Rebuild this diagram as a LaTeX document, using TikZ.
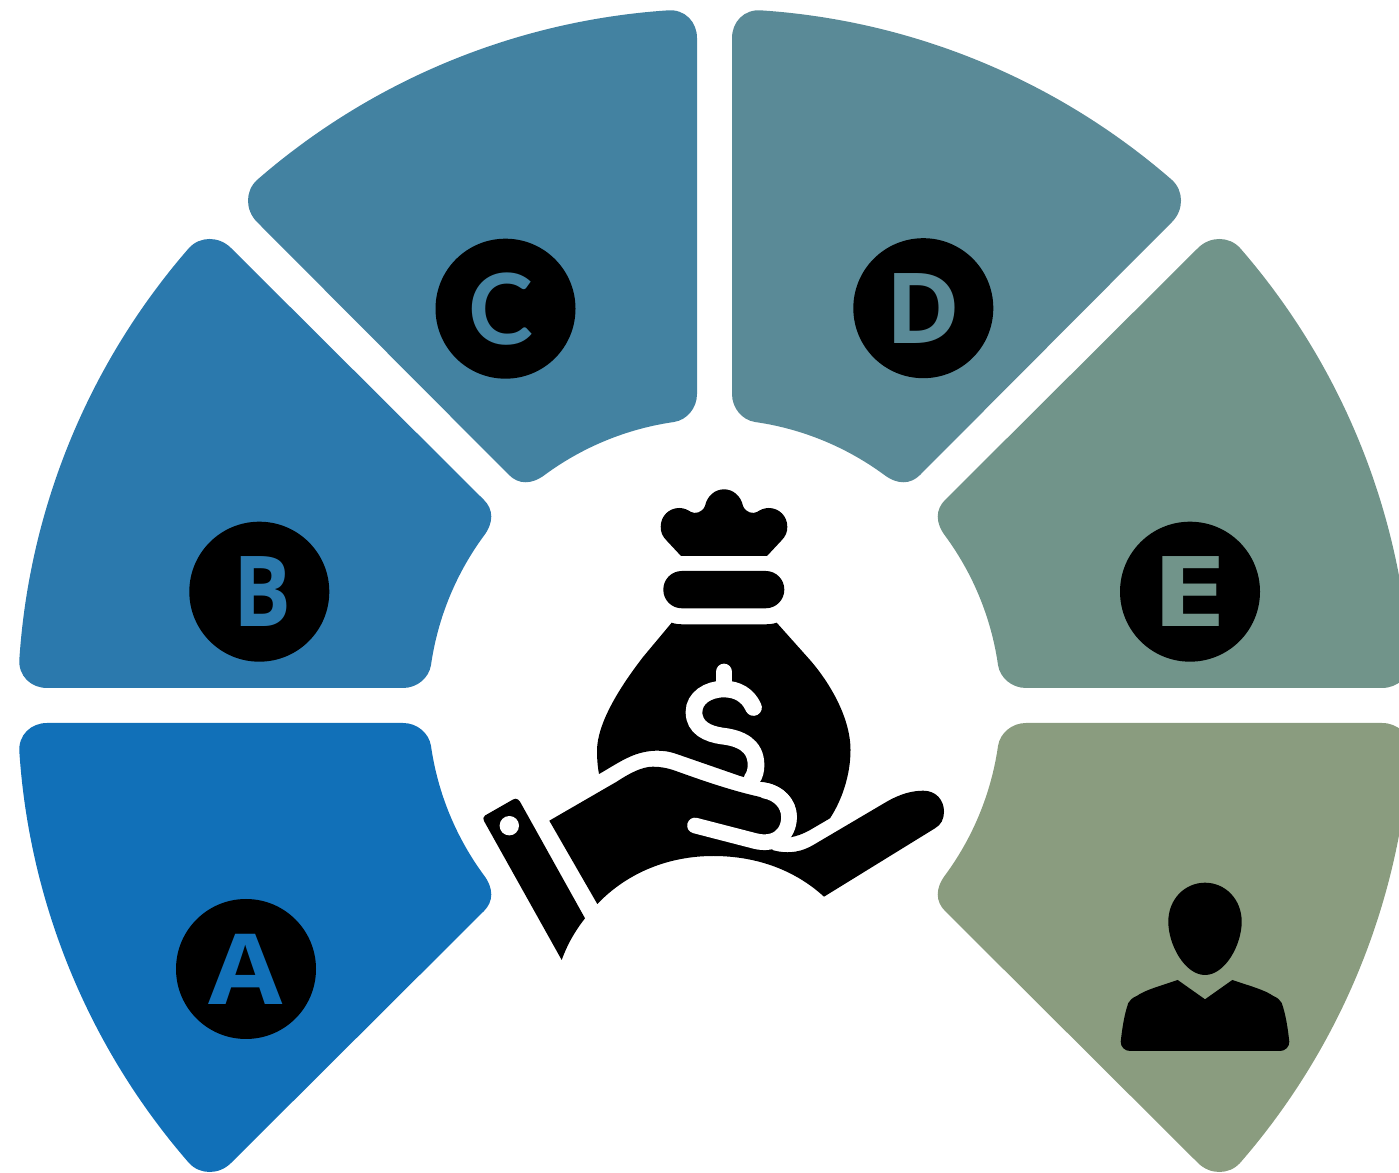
\documentclass[tikz,border=0pt]{standalone}
\usepackage{fontspec}
\usepackage{graphicx}
\setmainfont{Open Sans}
\newfontfamily\roundfont{Lato}
\definecolor{colA}{HTML}{1170B8}
\definecolor{colB}{HTML}{2B79AD}
\definecolor{colC}{HTML}{4382A1}
\definecolor{colD}{HTML}{5A8A97}
\definecolor{colE}{HTML}{71948A}
\definecolor{colF}{HTML}{8A9C7F}
\tikzset{
  lettercircle/.style={circle,fill=black,inner sep=0pt,minimum size=140pt,
    font=\bfseries\fontsize{98}{98}\selectfont},
  imgcoords/.style={shift={(0,1172)},yscale=-1}
}
\newcommand{\segmentpath}{
  (-667.5,-17.5) -- (-311.5,-17.5)
  .. controls (-297.5,-17.5) and (-285.5,-27.5) .. (-283.5,-40.5)
  arc[start angle=188.13,end angle=216.33,radius=286]
  .. controls (-220.5,-183) and (-221,-196) .. (-230.5,-205.5)
  -- (-483.5,-457.5)
  .. controls (-495.5,-469.5) and (-514.5,-469.5) .. (-525.5,-457.5)
  arc[start angle=221.04,end angle=183.83,radius=696.6]
  .. controls (-696.5,-29.5) and (-683.5,-17.5) .. (-667.5,-17.5) -- cycle
}
\begin{document}
\begin{tikzpicture}[x=1pt,y=1pt]
\useasboundingbox (0,0) rectangle (1399,1172);
\clip (0,0) rectangle (1399,1172);
% segments
\begin{scope}[shift={(714.5,466.5)}]
  \fill[colA] \segmentpath;
  \begin{scope}[yscale=-1] \fill[colB] \segmentpath; \end{scope}
  \begin{scope}[cm={0,-1,1,0,(0,0)}] \fill[colC] \segmentpath; \end{scope}
  \begin{scope}[cm={0,-1,-1,0,(0,0)}] \fill[colD] \segmentpath; \end{scope}
  \begin{scope}[xscale=-1,yscale=-1] \fill[colE] \segmentpath; \end{scope}
  \begin{scope}[xscale=-1] \fill[colF] \segmentpath; \end{scope}
\end{scope}
\begin{scope}[imgcoords]
  % letters
  \node[lettercircle,text=colA] (a) at (246,969) {\scalebox{1.1}[1]{A}};
  \node[lettercircle,text=colB] (b) at (259.3,591.7) {\hspace*{5.6pt}\scalebox{0.88}[1]{B}};
  \node[lettercircle,text=colC] (c) at (505.5,308.7) {\roundfont\bfseries C\hspace*{10pt}};
  \node[lettercircle,text=colD] (d) at (923.3,308.2) {\scalebox{1.04}[1]{D}};
  \node[lettercircle,text=colE] (e) at (1190,591.7) {\scalebox{1.4}[1]{E}\hspace*{2pt}};
  % person
  \fill[black] (1205,882.7) .. controls (1225,882.7) and (1241.7,899) .. (1241.7,921.7)
    .. controls (1241.7,945) and (1225,975) .. (1205,975)
    .. controls (1185,975) and (1168.3,945) .. (1168.3,921.7)
    .. controls (1168.3,899) and (1185,882.7) .. (1205,882.7) -- cycle;
  \fill[black] (1177.7,980) -- (1205,999.3) -- (1232.3,980)
    .. controls (1250,986) and (1265,990) .. (1273.3,996)
    .. controls (1278,998) and (1280,1000) .. (1281.7,1003)
    .. controls (1286,1015) and (1288,1030) .. (1289.3,1041.7)
    .. controls (1289.5,1047) and (1285,1051) .. (1280,1051)
    -- (1130,1051)
    .. controls (1125,1051) and (1120.5,1047) .. (1120.7,1041.7)
    .. controls (1122,1030) and (1124,1015) .. (1128.3,1003)
    .. controls (1130,1000) and (1132,998) .. (1136.7,996)
    .. controls (1145,990) and (1160,986) .. (1177.7,980) -- cycle;
  % bag knot
  \fill[black] (681,556) -- (667,541)
    .. controls (662,536) and (660.7,532) .. (660.7,526.7)
    .. controls (660.7,516) and (669,508) .. (679.3,508)
    .. controls (684,508) and (688,510) .. (691,512)
    .. controls (695,514) and (702,513) .. (705,506)
    .. controls (707,496) and (715,489.3) .. (724,489.3)
    .. controls (733,489.3) and (741,496) .. (743,506)
    .. controls (746,513) and (753,514) .. (757,512)
    .. controls (760,510) and (764,508) .. (768.7,508)
    .. controls (779,508) and (787.3,516) .. (787.3,526.7)
    .. controls (787.3,532) and (786,536) .. (781,541)
    -- (767,556) -- cycle;
  % bag band
  \fill[black,rounded corners=18.5] (663.3,571) rectangle (784.3,608.3);
  % bag body
  \fill[black] (671.7,622.7) .. controls (675,624) and (679,624.3) .. (683,624.3)
    -- (765,624.3) .. controls (769,624.3) and (773,624) .. (776.7,622.7)
    -- (810,660)
    .. controls (830,683) and (850.5,718) .. (850.5,750)
    .. controls (850.5,775) and (842,800) .. (830,818.3)
    -- (810,830) .. controls (803,834) and (797,836) .. (790.7,837.3)
    .. controls (795,830) and (796.7,824) .. (796.7,816.7)
    .. controls (796.7,800) and (783,783) .. (759.3,781.7)
    -- (739.3,775.7)
    -- (676.7,754)
    .. controls (668,751) and (662,750.7) .. (656.7,750.7)
    .. controls (648,750.7) and (638,753) .. (630,756.7)
    .. controls (620,761) and (608,769) .. (599,774)
    .. controls (597.5,766) and (597,758) .. (597,750)
    .. controls (597.5,725) and (616,692) .. (643.3,656.7)
    -- cycle;
  % dollar sign
  \draw[white,line width=16.7pt,line cap=round,line join=round]
    (724,672) -- (724,688);
  \draw[white,line width=16.7pt,line cap=round]
    (753.5,707.5) .. controls (748,695) and (737,689) .. (724,689)
    .. controls (708,689) and (694,698) .. (694,712)
    .. controls (694,728) and (708,734) .. (722,736)
    .. controls (740,738) and (756,745) .. (756,765)
    .. controls (756,770) and (755,775) .. (752,779);
  % cuff
  \fill[black] (518,799.5) .. controls (516,798.5) and (515,798.5) .. (513,799.5)
    -- (485,815.5) .. controls (483,817) and (483,819) .. (484,821)
    -- (561.7,960) .. controls (567,945) and (575,931) .. (585,918.3)
    -- (520,801.7) -- cycle;
  \fill[white] (509.3,825.7) circle (9.7);
  % hand
  \fill[black] (549.3,820.7) -- (616.7,781.7)
    .. controls (630,773) and (642,766.7) .. (653,766.7)
    .. controls (660,766.7) and (667,768) .. (673,770)
    .. controls (690,776) and (730,791) .. (765,798)
    .. controls (775,801) and (785,810) .. (785,820)
    -- (780.5,837.6) -- (772,850)
    .. controls (790,855) and (803,851) .. (813.3,845)
    -- (886.7,801.7)
    .. controls (900,794) and (912,790.7) .. (923.3,790.7)
    .. controls (936,790.7) and (944,800) .. (944,811.7)
    .. controls (944,819) and (941,825) .. (935,828.3)
    -- (824,896.7)
    .. controls (796,871) and (758,856) .. (713.3,856)
    .. controls (668,856) and (627,873) .. (597.3,904)
    -- cycle;
  % slit between the fingers
  \draw[white,line width=15.7pt,line cap=round]
    (695,825.5) -- (755,841)
    .. controls (775,846) and (789,835) .. (789,817)
    .. controls (789,803) and (778,793) .. (765,790.7);
\end{scope}
\end{tikzpicture}
\end{document}
